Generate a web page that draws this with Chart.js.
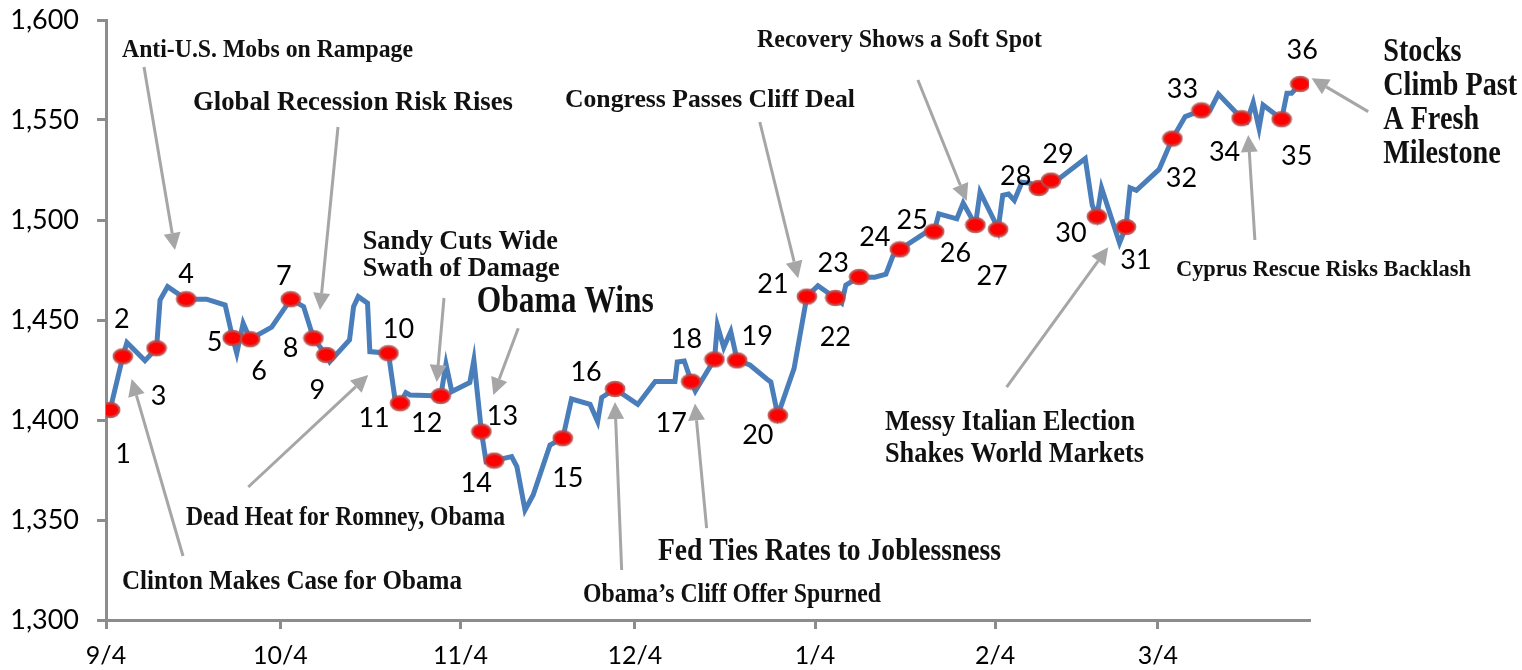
<!DOCTYPE html>
<html>
<head>
<meta charset="utf-8">
<script src="https://cdn.jsdelivr.net/npm/chart.js@4.4.1/dist/chart.umd.min.js"></script>
<style>
  html, body { margin: 0; padding: 0; background: #fff; }
  #wrap { width: 1522px; height: 670px; }
</style>
</head>
<body>
<div id="wrap"><canvas id="chart" width="1522" height="670"></canvas></div>
<script>
// x values are days counted from 9/4/2012
const tickDays = [0, 30, 61, 91, 122, 153, 181];
const tickLabels = ['9/4', '10/4', '11/4', '12/4', '1/4', '2/4', '3/4'];
const yTickValues = [1300, 1350, 1400, 1450, 1500, 1550, 1600];

// S&P 500 path
const lineDays = [
    0.7, 2.9, 3.6, 6.7, 8.7, 9.3, 10.6, 13.8, 17.3, 20.5,
    21.8, 22.5, 23.6, 24.8, 28.5, 31.8, 34.0, 35.7, 37.9, 38.5,
    41.9, 42.6, 43.4, 45.0, 45.4, 48.6, 49.7, 50.6, 51.6, 52.3,
    57.6, 58.5, 59.5, 62.6, 63.3, 64.6, 65.4, 66.8, 69.8, 70.7,
    72.1, 73.5, 76.4, 78.6, 80.1, 83.3, 84.6, 85.3, 87.6, 91.5,
    94.5, 97.9, 98.3, 99.5, 100.7, 101.4, 104.7, 105.2, 106.3, 107.5,
    108.6, 110.8, 113.7, 114.4, 115.6, 118.4, 120.6, 122.5, 125.5, 126.6,
    127.3, 129.6, 132.3, 134.2, 135.4, 136.6, 141.3, 142.5, 143.3, 146.4,
    147.5, 149.6, 150.4, 153.3, 153.5, 154.3, 155.3, 156.3, 157.6, 159.0,
    160.5, 162.6, 164.1, 168.5, 169.7, 170.5, 171.3, 174.4, 175.5, 176.2,
    177.3, 181.2, 183.5, 185.7, 188.5, 190.0, 191.4, 195.4, 196.3, 197.4,
    198.4, 199.1, 202.3, 203.2, 204.0, 205.5
];
const lineValues = [
    1405, 1431.8, 1438.7, 1429.7, 1435.9, 1460, 1466.7, 1460.4, 1460.4, 1457.5,
    1441, 1433.4, 1448.4, 1440.4, 1446.4, 1460.4, 1456.7, 1440.9, 1432.5, 1429.2,
    1440, 1456.7, 1461.7, 1458.4, 1434.2, 1433.4, 1410.9, 1408.4, 1413.7, 1412.5,
    1412, 1428, 1414.2, 1418.7, 1430, 1394.2, 1379.2, 1379.7, 1381.7, 1376.7,
    1355, 1362.5, 1387.5, 1390.9, 1410.5, 1407.8, 1399.2, 1411.3, 1415.5, 1407.8,
    1419.2, 1419.2, 1429, 1429.5, 1419.2, 1414.5, 1430.3, 1447.3, 1436.3, 1444.2,
    1429.8, 1427.5, 1420.5, 1419, 1402.3, 1425.8, 1461.7, 1467.1, 1461, 1458.5,
    1467.5, 1471.5, 1471.4, 1472.9, 1482, 1485.3, 1494.2, 1494.2, 1503.1, 1500.6,
    1508.5, 1497.5, 1514, 1497, 1495.3, 1512.3, 1513, 1509.8, 1518.9, 1518.4,
    1516, 1519.7, 1520.9, 1530.7, 1507.5, 1501.7, 1516.1, 1488.5, 1496.5, 1516.1,
    1514.8, 1525.3, 1540.7, 1551.7, 1554.8, 1555, 1563, 1550.9, 1549.2, 1558.7,
    1545.9, 1557.5, 1550.4, 1563.4, 1563.4, 1568
];

// numbered event markers
const markerDays = [0.7, 2.9, 8.7, 13.8, 21.8, 24.8, 31.8, 35.7, 37.9, 48.6, 50.6, 57.6, 64.6, 66.8, 78.6, 87.6, 100.7, 104.7,
    108.6, 115.6, 120.6, 125.5, 129.6, 136.6, 142.5, 149.6, 153.5, 160.5, 162.6, 170.5, 175.5, 183.5, 188.5, 195.4, 202.3, 205.5];
const markerValues = [1405, 1431.8, 1435.9, 1460.4, 1441, 1440.4, 1460.4, 1440.9, 1432.5, 1433.4, 1408.4, 1412, 1394.2, 1379.7,
    1390.9, 1415.5, 1419.2, 1430.3, 1429.8, 1402.3, 1461.7, 1461, 1471.5, 1485.3, 1494.2, 1497.5, 1495.3, 1516, 1519.7, 1501.7,
    1496.5, 1540.7, 1554.8, 1550.9, 1550.4, 1568];
const markerLabels = markerDays.map((d, i) => String(i + 1));

// where each number sits relative to its marker (px)
const labelOffsets = [[13, 44], [-1, -37], [2, 48], [0, -25], [-18, 4], [9, 32], [-7, -23], [-23, 10], [-9, 35], [10, -24],
    [-26, 15], [-14, 27], [21, -15], [-18, 23], [5, 40], [-29, -17], [-20, 42], [-28, -20], [20, -24], [-20, 20],
    [-34, -12], [0, 39], [-26, -14], [-25, -12], [-22, -11], [-20, 28], [-6, 47], [-23, -12], [7, -26], [-26, 17],
    [10, 33], [9, 40], [-19, -21], [-17, 34], [15, 37], [2, -34]];

// headlines: anchor (day, value) = left edge / middle of first line
const notes = [
    { lines: ['Anti-U.S. Mobs on Rampage'], at: [2.75, 1586], size: 26, width: 291 },
    { lines: ['Global Recession Risk Rises'], at: [14.97, 1559.5], size: 28, width: 320 },
    { lines: ['Sandy Cuts Wide', 'Swath of Damage'], at: [44.17, 1490.3], size: 28, width: 197, lh: 27 },
    { lines: ['Obama Wins'], at: [63.78, 1460], size: 37, width: 177 },
    { lines: ['Congress Passes Cliff Deal'], at: [78.97, 1561], size: 26, width: 290 },
    { lines: ['Recovery Shows a Soft Spot'], at: [112.01, 1591], size: 26, width: 285 },
    { lines: ['Stocks', 'Climb Past', 'A Fresh', 'Milestone'], at: [219.77, 1585], size: 34, width: 134, lh: 34 },
    { lines: ['Cyprus Rescue Risks Backlash'], at: [184.1, 1476], size: 24, width: 295 },
    { lines: ['Messy Italian Election', 'Shakes World Markets'], at: [134.03, 1400], size: 30, width: 259, lh: 32 },
    { lines: ['Fed Ties Rates to Joblessness'], at: [94.98, 1335], size: 31, width: 343 },
    { lines: ['Obama\u2019s Cliff Offer Spurned'], at: [82.07, 1313.5], size: 27, width: 298 },
    { lines: ['Dead Heat for Romney, Obama'], at: [13.76, 1352], size: 27, width: 319 },
    { lines: ['Clinton Makes Case for Obama'], at: [2.75, 1320], size: 27, width: 340 }
];

// arrows: [fromDay, fromValue, toDay, toValue]
const arrows = [
    [6.54, 1576.5, 11.87, 1485],
    [39.92, 1546.5, 36.82, 1455],
    [58.16, 1461, 56.9, 1419],
    [70.94, 1445.9, 66.64, 1412.5],
    [112.5, 1549, 119.1, 1470.9],
    [139.7, 1570, 148.1, 1509.5],
    [217.19, 1554.2, 207.45, 1570.9],
    [197.69, 1490, 196.54, 1542.5],
    [154.97, 1416.4, 172.45, 1486.4],
    [103.35, 1345.9, 101.34, 1408.3],
    [88.73, 1325, 87.58, 1409],
    [24.48, 1366.5, 45.13, 1422.5],
    [13.25, 1332, 4.42, 1420.5]
];

const axisColor = '#8c8c8c';
const arrowColor = '#a6a6a6';

function ellipseMarker() {
    const c = document.createElement('canvas');
    c.width = 22;
    c.height = 18;
    const g = c.getContext('2d');
    g.beginPath();
    g.ellipse(11, 9, 9.2, 7, 0, 0, Math.PI * 2);
    g.fillStyle = '#ff0000';
    g.fill();
    g.lineWidth = 2.4;
    g.strokeStyle = 'rgba(185,75,72,0.85)';
    g.stroke();
    return c;
}

function drawArrow(ctx, x1, y1, x2, y2) {
    const ang = Math.atan2(y2 - y1, x2 - x1);
    const headLen = 17, headHalf = 8.5;
    const bx = x2 - headLen * Math.cos(ang), by = y2 - headLen * Math.sin(ang);
    ctx.strokeStyle = arrowColor;
    ctx.fillStyle = arrowColor;
    ctx.lineWidth = 3;
    ctx.beginPath();
    ctx.moveTo(x1, y1);
    ctx.lineTo(bx, by);
    ctx.stroke();
    ctx.beginPath();
    ctx.moveTo(x2, y2);
    ctx.lineTo(bx + headHalf * Math.sin(ang), by - headHalf * Math.cos(ang));
    ctx.lineTo(bx - headHalf * Math.sin(ang), by + headHalf * Math.cos(ang));
    ctx.closePath();
    ctx.fill();
}

const annotate = {
    id: 'annotate',
    afterDatasetsDraw(chart) {
        const ctx = chart.ctx;
        const xs = chart.scales.x, ys = chart.scales.y;
        ctx.save();

        arrows.forEach(a => {
            drawArrow(ctx, xs.getPixelForValue(a[0]), ys.getPixelForValue(a[1]),
                xs.getPixelForValue(a[2]), ys.getPixelForValue(a[3]));
        });

        ctx.fillStyle = '#111';
        ctx.textAlign = 'left';
        ctx.textBaseline = 'alphabetic';
        notes.forEach(n => {
            ctx.font = 'bold ' + n.size + 'px "Liberation Serif", "DejaVu Serif", serif';
            const widest = Math.max(...n.lines.map(t => ctx.measureText(t).width));
            const sx = n.width / widest;
            const x = xs.getPixelForValue(n.at[0]);
            const y0 = ys.getPixelForValue(n.at[1]);
            n.lines.forEach((t, i) => {
                const base = y0 + i * (n.lh || 0) + n.size * 0.33;
                ctx.save();
                ctx.translate(x, base);
                ctx.scale(sx, 1);
                ctx.fillText(t, 0, 0);
                ctx.restore();
            });
        });

        ctx.fillStyle = '#000';
        ctx.font = '27px Lato, "Open Sans", sans-serif';
        ctx.textAlign = 'center';
        ctx.textBaseline = 'middle';
        markerLabels.forEach((t, i) => {
            const x = xs.getPixelForValue(markerDays[i]) + labelOffsets[i][0];
            const y = ys.getPixelForValue(markerValues[i]) + labelOffsets[i][1];
            ctx.fillText(t, x, y);
        });
        ctx.restore();
    }
};

new Chart(document.getElementById('chart'), {
    type: 'line',
    data: {
        datasets: [
            {
                label: 'Events',
                data: markerDays.map((d, i) => ({ x: d, y: markerValues[i] })),
                showLine: false,
                pointStyle: ellipseMarker(),
                pointRadius: 9,
                order: 0
            },
            {
                label: 'S&P 500',
                data: lineDays.map((d, i) => ({ x: d, y: lineValues[i] })),
                borderColor: '#4a7ebb',
                borderWidth: 5,
                pointRadius: 0,
                tension: 0,
                borderJoinStyle: 'miter',
                order: 1
            }
        ]
    },
    options: {
        responsive: false,
        animation: false,
        events: [],
        layout: { padding: { top: 20, right: 213, bottom: 0, left: 0 } },
        plugins: {
            legend: { display: false },
            tooltip: { enabled: false }
        },
        scales: {
            x: {
                type: 'linear',
                min: 0,
                max: 207,
                afterBuildTicks: s => { s.ticks = tickDays.map(v => ({ value: v })); },
                afterFit: s => { s.height = 50; s.paddingLeft = 0; s.paddingRight = 0; },
                ticks: {
                    autoSkip: false,
                    maxRotation: 0,
                    color: '#000',
                    padding: 12,
                    font: { family: 'Lato', size: 25 },
                    callback: (v, i) => tickLabels[i]
                },
                grid: { drawOnChartArea: false, tickLength: 9, color: axisColor, lineWidth: 3 },
                border: { color: axisColor, width: 3 }
            },
            y: {
                min: 1300,
                max: 1600,
                afterBuildTicks: s => { s.ticks = yTickValues.map(v => ({ value: v })); },
                afterFit: s => { s.width = 106; s.paddingTop = 0; s.paddingBottom = 0; },
                ticks: {
                    color: '#000',
                    padding: 18,
                    font: { family: 'Lato', size: 27 },
                    callback: v => v.toLocaleString('en-US')
                },
                grid: { drawOnChartArea: false, tickLength: 9, color: axisColor, lineWidth: 3 },
                border: { color: axisColor, width: 3 }
            }
        }
    },
    plugins: [annotate]
});
</script>
</body>
</html>
